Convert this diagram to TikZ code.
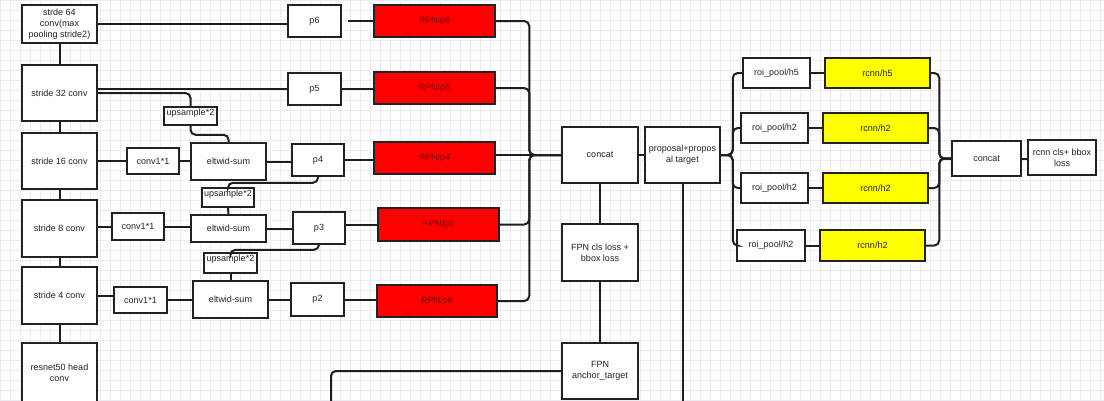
\documentclass[tikz,border=0pt]{standalone}
\usepackage{fontspec}
\setmainfont{Liberation Sans}
\usetikzlibrary{calc}
\definecolor{boxc}{HTML}{222222}
\definecolor{linec}{HTML}{1E1E1E}
\definecolor{txtc}{HTML}{222222}
\definecolor{cRed}{HTML}{FF0000}
\definecolor{cRedTxt}{HTML}{7A0000}
\definecolor{cYellow}{HTML}{FFFF00}
\definecolor{gridc}{HTML}{EBEBF2}
\newcommand\mkbox[7]{\node[#6, minimum width={#4-#2}, minimum height={#5-#3}] (#1) at ({(#2+#4)/2},{(#3+#5)/2}) {#7};}
\tikzset{
  box/.style={draw=boxc, line width=1.5pt, fill=white, inner sep=1pt, align=center,
    font=\fontsize{9}{11}\selectfont, text=txtc},
  rpnbox/.style={box, fill=cRed, text=cRedTxt},
  yelbox/.style={box, fill=cYellow},
  upbox/.style={box, label={[font=\fontsize{9}{11}\selectfont, text=txtc, inner sep=0pt, anchor=north, yshift=-2.5pt]north:upsample*2}},
  conn/.style={draw=linec, line width=2pt, rounded corners=5pt},
}
\begin{document}
\begin{tikzpicture}[x=1pt,y=-1pt]
\useasboundingbox (0,0) rectangle (1104,400);
\fill[white] (0,0) rectangle (1104,400);
\draw[gridc, line width=0.5pt, step=10pt] (0,0) grid (1104,400);

% left column
\mkbox{s64}{22}{5}{97}{43}{box}{strde 64\\conv(max\\pooling stride2)}
\mkbox{s32}{22}{65}{97}{121}{box}{stride 32 conv}
\mkbox{s16}{22}{133}{97}{189}{box}{stride 16 conv}
\mkbox{s8}{22}{200}{97}{257}{box}{stride 8 conv}
\mkbox{s4}{22}{267}{97}{324}{box}{stride 4 conv}
\mkbox{res}{22}{343}{97}{402}{box}{resnet50 head\\conv}

\mkbox{c16}{127}{148}{179}{174}{box}{conv1*1}
\mkbox{e16}{191}{143}{266}{180}{box}{eltwid-sum}
\mkbox{c8}{112}{213}{164}{240}{box}{conv1*1}
\mkbox{e8}{191}{215}{266}{242}{box}{eltwid-sum}
\mkbox{c4}{114}{287}{167}{313}{box}{conv1*1}
\mkbox{e4}{193}{281}{268}{318}{box}{eltwid-sum}

\mkbox{up1}{164}{107}{217}{125}{upbox}{}
\mkbox{up2}{202}{188}{254}{207}{upbox}{}
\mkbox{up3}{204}{253}{257}{273}{upbox}{}

\mkbox{p6}{288}{5}{341}{37}{box}{p6}
\mkbox{p5}{288}{73}{341}{105}{box}{p5}
\mkbox{p4}{292}{144}{344}{176}{box}{p4}
\mkbox{p3}{293}{212}{345}{244}{box}{p3}
\mkbox{p2}{291}{283}{344}{316}{box}{p2}

\mkbox{r6}{374}{5}{495}{37}{rpnbox}{RPN/p6}
\mkbox{r5}{374}{72}{495}{104}{rpnbox}{RPN/p5}
\mkbox{r4}{374}{142}{495}{174}{rpnbox}{RPN/p4}
\mkbox{r3}{378}{208}{499}{241}{rpnbox}{RPN/p5}
\mkbox{r2}{377}{285}{497}{317}{rpnbox}{RPN/p6}

\mkbox{concat}{562}{127}{638}{183}{box}{concat}
\mkbox{prop}{645}{127}{720}{183}{box}{proposal+propos\\al target}
\mkbox{cls}{562}{224}{638}{281}{box}{FPN cls loss +\\bbox loss}
\mkbox{anc}{562}{343}{638}{399}{box}{FPN\\anchor\_target}

\mkbox{roi1}{743}{58}{810}{88}{box}{roi\_pool/h5}
\mkbox{rc1}{825}{58}{930}{88}{yelbox}{rcnn/h5}
\mkbox{roi2}{741}{113}{808}{143}{box}{roi\_pool/h2}
\mkbox{rc2}{823}{113}{928}{143}{yelbox}{rcnn/h2}
\mkbox{roi3}{741}{173}{808}{203}{box}{roi\_pool/h2}
\mkbox{rc3}{823}{173}{928}{203}{yelbox}{rcnn/h2}
\mkbox{roi4}{737}{230}{805}{261}{box}{roi\_pool/h2}
\mkbox{rc4}{820}{230}{925}{261}{yelbox}{rcnn/h2}
\mkbox{cc2}{952}{141}{1021}{176}{box}{concat}
\mkbox{loss}{1028}{140}{1096}{175}{box}{rcnn cls+ bbox\\loss}

\path (concat.west) ++(-32,0) coordinate (j1);
\path (prop.east) ++(12,0) coordinate (j2);
\path (cc2.west) ++(-12,0) coordinate (j3);

% backbone column
\draw[conn] (s64.south) -- (s32.north);
\draw[conn] (s32.south) -- (s16.north);
\draw[conn] (s16.south) -- (s8.north);
\draw[conn] (s8.south) -- (s4.north);
\draw[conn] (s4.south) -- (res.north);

% lateral
\draw[conn] (s64.east) -- (s64.east -| p6.west);
\draw[conn] (s32.east |- p5.west) -- (p5.west);
\draw[conn] (s32.east) -| (up1.north);
\draw[conn] (up1.south) -- ++(0,9) -| (e16.north);
\draw[conn] (s16.east) -- (s16.east -| c16.west);
\draw[conn] (c16.east) -- (c16.east -| e16.west);
\draw[conn] (e16.east) -- (e16.east -| p4.west);
\draw[conn] (p4.south) -- ++(0,6) -| (up2.north);
\draw[conn] (up2.south) -- (e8.north);
\draw[conn] (s8.east |- c8.west) -- (c8.west);
\draw[conn] (c8.east) -- (c8.east -| e8.west);
\draw[conn] (e8.east) -- (e8.east -| p3.west);
\draw[conn] (p3.south) -- ++(0,5) -| (up3.north);
\draw[conn] (up3.south) -- (e4.north);
\draw[conn] (s4.east) -- (s4.east -| c4.west);
\draw[conn] (c4.east) -- (c4.east -| e4.west);
\draw[conn] (e4.east) -- (e4.east -| p2.west);

% p -> RPN
\draw[conn, shorten <=6pt] (p6.east) -- (p6.east -| r6.west);
\draw[conn] (p5.east) -- (p5.east -| r5.west);
\draw[conn] (p4.east) -- (p4.east -| r4.west);
\draw[conn] (p3.east |- r3.west) -- (r3.west);
\draw[conn] (p2.east) -- (p2.east -| r2.west);

% RPN -> concat
\draw[conn] (r6.east) -| (j1) -- (concat.west);
\draw[conn] (r5.east) -| (j1) -- (concat.west);
\draw[conn] (r4.east |- j1) -- (concat.west);
\draw[conn] (r3.east) -| (j1) -- (concat.west);
\draw[conn] (r2.east) -| (j1) -- (concat.west);

\draw[conn] (concat.east) -- (prop.west);
\draw[conn] (concat.south) -- (cls.north);
\draw[conn] (cls.south) -- (anc.north);
\draw[conn] (anc.west) -| (331,415);
\draw[conn] (prop.south) -- ++(0,240);

% proposal -> roi
\draw[conn] (prop.east) -- (j2) |- (roi1.west);
\draw[conn] (prop.east) -- (j2) |- (roi2.west);
\draw[conn] (prop.east) -- (j2) |- (roi3.west);
\draw[conn] (prop.east) -- (j2) |- (roi4.west);
\draw[conn] (roi1.east) -- (roi1.east -| rc1.west);
\draw[conn] (roi2.east) -- (roi2.east -| rc2.west);
\draw[conn] (roi3.east) -- (roi3.east -| rc3.west);
\draw[conn] (roi4.east) -- (roi4.east -| rc4.west);
\draw[conn] (rc1.east) -| (j3) -- (cc2.west);
\draw[conn] (rc2.east) -| (j3) -- (cc2.west);
\draw[conn] (rc3.east) -| (j3) -- (cc2.west);
\draw[conn] (rc4.east) -| (j3) -- (cc2.west);
\draw[conn] (cc2.east) -- (cc2.east -| loss.west);
\end{tikzpicture}
\end{document}
